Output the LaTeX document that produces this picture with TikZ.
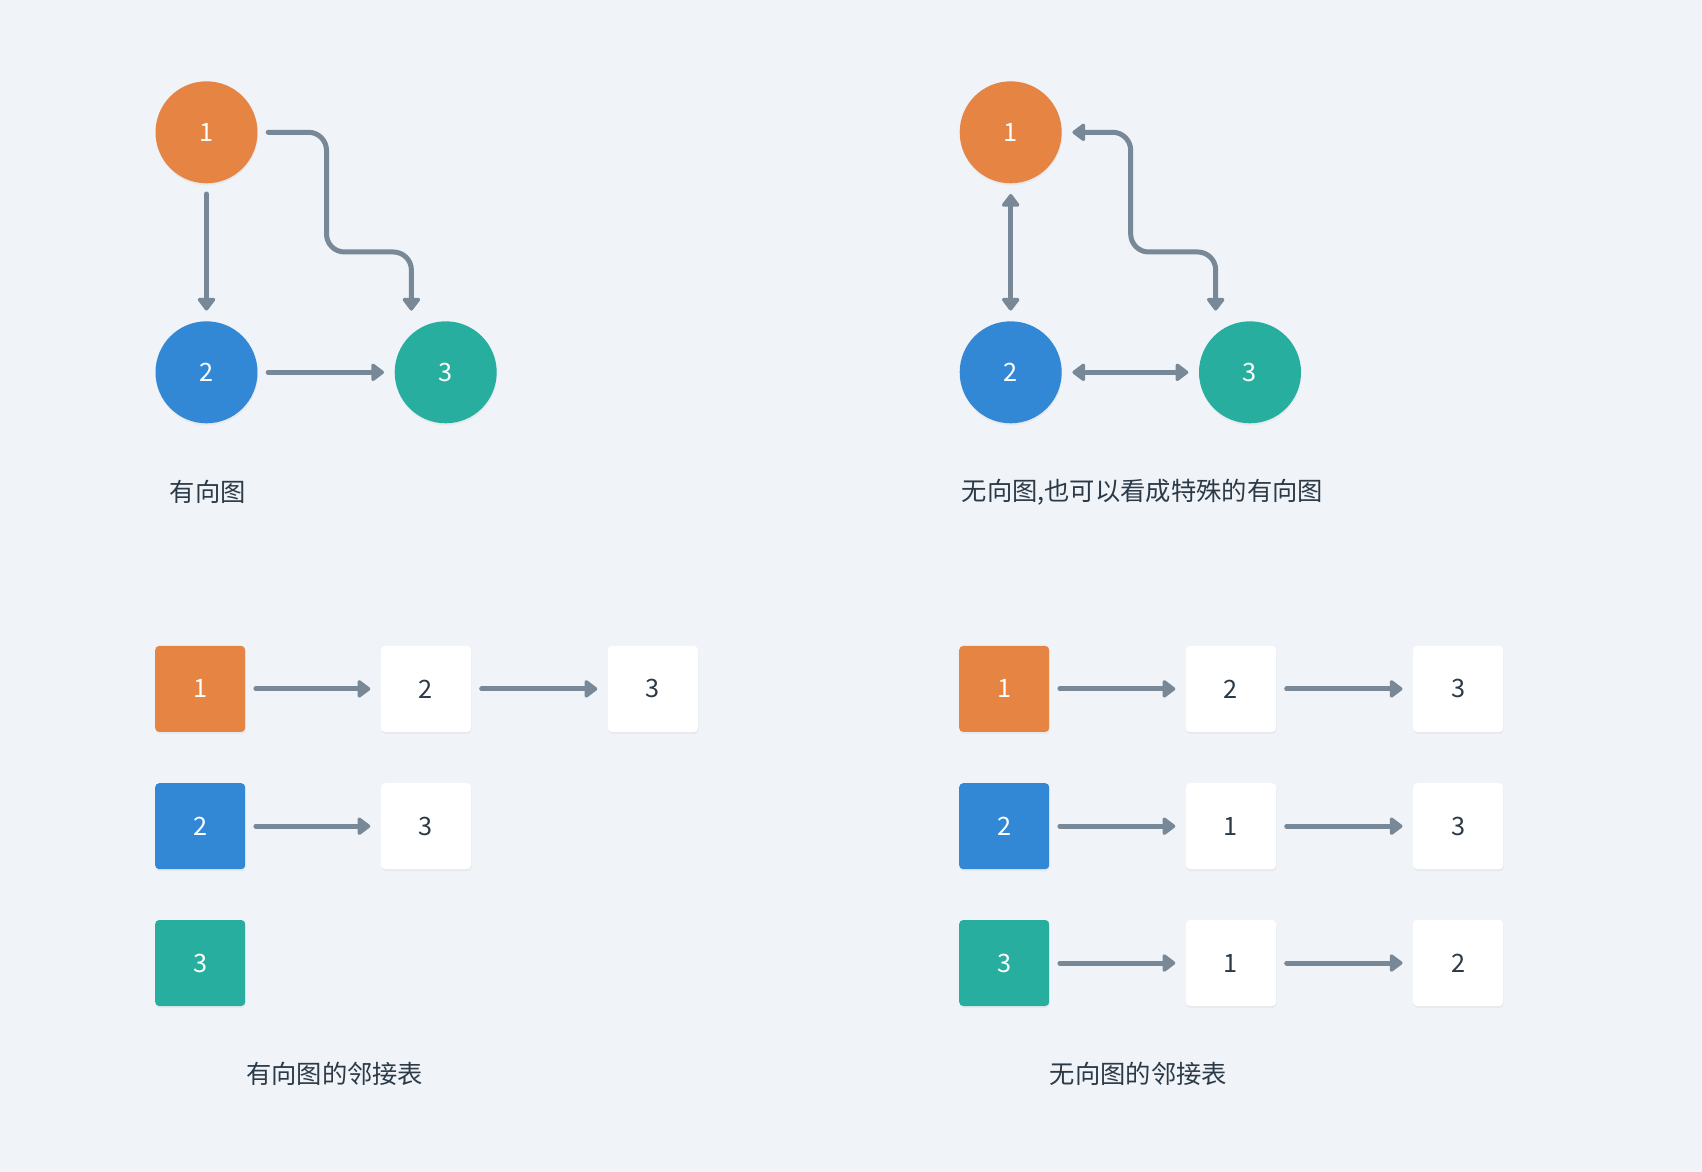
\documentclass[tikz,border=0pt]{standalone}
\usepackage{fontspec}
\setmainfont{Noto Sans CJK SC}
\usetikzlibrary{arrows.meta,shadows}
\definecolor{bgcol}{HTML}{F0F3F7}
\definecolor{orangecol}{HTML}{E68443}
\definecolor{bluecol}{HTML}{3388D6}
\definecolor{tealcol}{HTML}{27AE9E}
\definecolor{linkcol}{HTML}{788896}
\definecolor{textcol}{HTML}{2C3A47}

\begin{document}
\begin{tikzpicture}[
  >={Triangle[width=0.2cm,length=0.14cm,round]},
  softshadow/.style={drop shadow={shadow xshift=0.005cm,shadow yshift=-0.02cm,opacity=0.08}},
  vert/.style={circle,minimum size=1.02cm,inner sep=0pt,text=white,font=\fontsize{7.2}{8}\selectfont,softshadow},
  cell/.style={rectangle,rounded corners=0.04cm,minimum width=0.9cm,minimum height=0.86cm,inner sep=0pt,font=\fontsize{7.2}{8}\selectfont,softshadow},
  keycell/.style={cell,text=white},
  listcell/.style={cell,fill=white,text=textcol},
  link/.style={draw=linkcol,line width=0.05cm,line cap=round,->,shorten <=0.1cm,shorten >=0.1cm},
  caption/.style={text=textcol,font=\fontsize{7.2}{9}\selectfont,inner sep=0pt}
]
%%Background
\fill[bgcol] (0,0) rectangle (17.02,-11.72);
%%Directed graph
\node[vert,fill=orangecol] (a1) at (2.065,-1.323) {1};
\node[vert,fill=bluecol]   (a2) at (2.065,-3.723) {2};
\node[vert,fill=tealcol]   (a3) at (4.457,-3.723) {3};
\draw[link] (a1) -- (a2);
\draw[link] (a2) -- (a3);
\draw[link,rounded corners=0.18cm] (a1.east) -- ++(0.683,0) |- ([xshift=-0.343cm,yshift=0.686cm]a3.north) -- ([xshift=-0.343cm]a3.north);
\node[caption,anchor=west] (capa) at (1.69,-4.92) {有向图};

%%Undirected graph
\node[vert,fill=orangecol] (b1) at (10.107,-1.323) {1};
\node[vert,fill=bluecol]   (b2) at (10.107,-3.723) {2};
\node[vert,fill=tealcol]   (b3) at (12.50,-3.723) {3};
\draw[link,<->] (b1) -- (b2);
\draw[link,<->] (b2) -- (b3);
\draw[link,<->,rounded corners=0.18cm] (b1.east) -- ++(0.683,0) |- ([xshift=-0.343cm,yshift=0.686cm]b3.north) -- ([xshift=-0.343cm]b3.north);
\node[caption,anchor=west] (capb) at (9.61,-4.92) {无向图,也可以看成特殊的有向图};

%%Adjacency list, directed
\node[keycell,fill=orangecol] (t11) at (2.002,-6.889) {1};
\node[listcell]               (t12) at (4.26,-6.889)  {2};
\node[listcell]               (t13) at (6.53,-6.889)  {3};
\node[keycell,fill=bluecol]   (t21) at (2.002,-8.262) {2};
\node[listcell]               (t22) at (4.26,-8.262)  {3};
\node[keycell,fill=tealcol]   (t31) at (2.002,-9.63)  {3};
\draw[link] (t11) -- (t12);
\draw[link] (t12) -- (t13);
\draw[link] (t21) -- (t22);
\node[caption] (capc) at (3.347,-10.735) {有向图的邻接表};

%%Adjacency list, undirected
\node[keycell,fill=orangecol] (u11) at (10.042,-6.889) {1};
\node[listcell]               (u12) at (12.31,-6.889)  {2};
\node[listcell]               (u13) at (14.582,-6.889) {3};
\node[keycell,fill=bluecol]   (u21) at (10.042,-8.262) {2};
\node[listcell]               (u22) at (12.31,-8.262)  {1};
\node[listcell]               (u23) at (14.582,-8.262) {3};
\node[keycell,fill=tealcol]   (u31) at (10.042,-9.63)  {3};
\node[listcell]               (u32) at (12.31,-9.63)   {1};
\node[listcell]               (u33) at (14.582,-9.63)  {2};
\draw[link] (u11) -- (u12);
\draw[link] (u12) -- (u13);
\draw[link] (u21) -- (u22);
\draw[link] (u22) -- (u23);
\draw[link] (u31) -- (u32);
\draw[link] (u32) -- (u33);
\node[caption] (capd) at (11.385,-10.74) {无向图的邻接表};
\end{tikzpicture}
\end{document}
